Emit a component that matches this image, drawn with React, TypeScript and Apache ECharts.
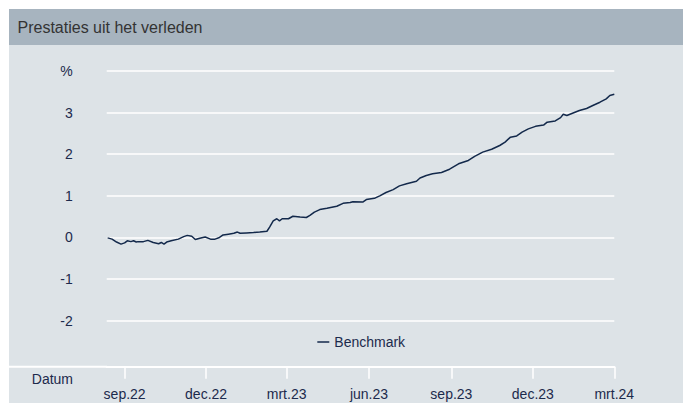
import React, { useEffect, useRef } from "react";
import * as echarts from "echarts";

const titleText = "Prestaties uit het verleden";
const seriesName = "Benchmark";
const xAxisName = "Datum";

const dates = [
  "2022-08-13", "2022-08-18", "2022-08-23", "2022-08-28", "2022-09-01", "2022-09-04",
  "2022-09-08", "2022-09-11", "2022-09-14", "2022-09-16", "2022-09-22", "2022-09-27",
  "2022-10-03", "2022-10-09", "2022-10-12", "2022-10-15", "2022-10-18", "2022-10-23",
  "2022-10-31", "2022-11-06", "2022-11-10", "2022-11-15", "2022-11-19", "2022-11-24",
  "2022-11-30", "2022-12-06", "2022-12-11", "2022-12-16", "2022-12-20", "2022-12-26",
  "2023-01-01", "2023-01-05", "2023-01-08", "2023-01-15", "2023-01-23", "2023-01-30",
  "2023-02-07", "2023-02-10", "2023-02-14", "2023-02-18", "2023-02-21", "2023-02-24",
  "2023-03-03", "2023-03-08", "2023-03-16", "2023-03-23", "2023-03-27", "2023-04-01",
  "2023-04-07", "2023-04-15", "2023-04-26", "2023-05-03", "2023-05-11", "2023-05-14",
  "2023-05-25", "2023-05-29", "2023-06-07", "2023-06-13", "2023-06-20", "2023-06-28",
  "2023-07-05", "2023-07-13", "2023-07-24", "2023-07-28", "2023-08-04", "2023-08-11",
  "2023-08-21", "2023-08-30", "2023-09-09", "2023-09-20", "2023-09-27", "2023-10-06",
  "2023-10-16", "2023-10-25", "2023-10-31", "2023-11-06", "2023-11-13", "2023-11-19",
  "2023-11-26", "2023-12-04", "2023-12-13", "2023-12-17", "2023-12-26", "2024-01-01",
  "2024-01-04", "2024-01-08", "2024-01-15", "2024-01-22", "2024-01-30", "2024-02-06",
  "2024-02-14", "2024-02-21", "2024-02-25", "2024-03-01",
];

const benchmark = [
  -0.01, -0.04, -0.11, -0.16, -0.13, -0.08,
  -0.1, -0.08, -0.11, -0.1, -0.1, -0.07,
  -0.12, -0.15, -0.12, -0.16, -0.11, -0.08,
  -0.04, 0.02, 0.05, 0.03, -0.05, -0.02,
  0.01, -0.04, -0.04, 0.0, 0.06, 0.08,
  0.1, 0.13, 0.1, 0.11, 0.12, 0.13,
  0.15, 0.25, 0.4, 0.45, 0.4, 0.45,
  0.45, 0.51, 0.49, 0.48, 0.53, 0.61,
  0.67, 0.7, 0.75, 0.82, 0.84, 0.86,
  0.85, 0.91, 0.94, 1.0, 1.08, 1.15,
  1.24, 1.29, 1.35, 1.43, 1.49, 1.53,
  1.56, 1.64, 1.77, 1.85, 1.95, 2.05,
  2.12, 2.21, 2.29, 2.41, 2.44, 2.53,
  2.61, 2.67, 2.7, 2.77, 2.8, 2.88,
  2.96, 2.93, 2.99, 3.05, 3.1, 3.17,
  3.25, 3.33, 3.41, 3.44,
];

const tickDates = ["2022-09-01", "2022-12-01", "2023-03-01", "2023-06-01", "2023-09-01", "2023-12-01", "2024-03-01"];
const tickLabels = ["sep.22", "dec.22", "mrt.23", "jun.23", "sep.23", "dec.23", "mrt.24"];

const xMin = "2022-08-12";
const xMax = "2024-03-01";
const yMin = -2;
const yMax = 4;
const yInterval = 1;
const yTopLabel = "%";

const W = 683;
const H = 395;

const ts = (d: string) => new Date(d + "T00:00:00Z").getTime();

export default function App() {
  const ref = useRef<HTMLDivElement>(null);
  useEffect(() => {
    if (!ref.current) return;
    const chart = echarts.init(ref.current, null, { renderer: "svg" });
    const tickTs = tickDates.map(ts);
    const labelFor = (v: number) => {
      const i = tickTs.findIndex((t) => Math.abs(t - v) < 36e5 * 12);
      return i >= 0 ? tickLabels[i] : "";
    };
    const textColor = "#1c2a4c";
    const font = "Arial, 'Liberation Sans', sans-serif";
    chart.setOption({
      animation: false,
      textStyle: { fontFamily: font },
      graphic: [
        { type: "rect", z: -10, shape: { x: 1, y: 1, width: W - 1, height: 36 }, style: { fill: "#a7b4bf" }, silent: true },
        { type: "rect", z: -10, shape: { x: 1, y: 37, width: W - 1, height: H - 37 }, style: { fill: "#dde3e7" }, silent: true },
        {
          type: "text", x: 9.5, y: 19.5, z: 10,
          style: { text: titleText, fill: "#333333", font: `16px ${font}`, verticalAlign: "middle" },
        },
        {
          type: "text", x: 65, y: 371, z: 10,
          style: { text: xAxisName, fill: textColor, font: `14px ${font}`, align: "right", verticalAlign: "middle" },
        },
        {
          type: "line", z: 5,
          shape: { x1: 1, y1: 358.7, x2: 99, y2: 358.7 },
          style: { stroke: "#ffffff", lineWidth: 2 },
        },
      ],
      legend: {
        data: [{ name: seriesName, icon: "rect" }],
        left: 309.3,
        top: 327,
        padding: 0,
        itemWidth: 12,
        itemHeight: 1.5,
        itemGap: 4,
        textStyle: { color: textColor, fontSize: 14, fontFamily: font },
      },
      grid: { left: 98.7, right: 76.7, top: 63, bottom: 82.3, containLabel: false },
      xAxis: {
        type: "value",
        min: ts(xMin),
        max: ts(xMax),
        offset: 46,
        axisLine: { show: true, onZero: false, lineStyle: { color: "#ffffff", width: 2 } },
        axisTick: { show: true, customValues: tickTs, length: 12, inside: false, lineStyle: { color: "#ffffff", width: 1.5 } },
        axisLabel: {
          customValues: tickTs,
          margin: 20,
          color: textColor,
          fontSize: 14,
          fontFamily: font,
          formatter: (v: number) => labelFor(v),
        },
        splitLine: { show: false },
      },
      yAxis: {
        type: "value",
        min: yMin,
        max: yMax,
        interval: yInterval,
        axisLine: { show: false },
        axisTick: { show: false },
        axisLabel: {
          margin: 34,
          color: textColor,
          fontSize: 14,
          fontFamily: font,
          formatter: (v: number) => (v === yMax ? yTopLabel : String(v)),
        },
        splitLine: { show: true, lineStyle: { color: "#ffffff", width: 1.5 } },
      },
      series: [
        {
          name: seriesName,
          type: "line",
          data: dates.map((d, i) => [ts(d), benchmark[i]]),
          showSymbol: false,
          symbol: "none",
          lineStyle: { color: "#13294b", width: 1.5 },
          itemStyle: { color: "#13294b" },
          z: 3,
        },
      ],
    });
    return () => chart.dispose();
  }, []);
  return <div ref={ref} style={{ width: W, height: H }} />;
}
